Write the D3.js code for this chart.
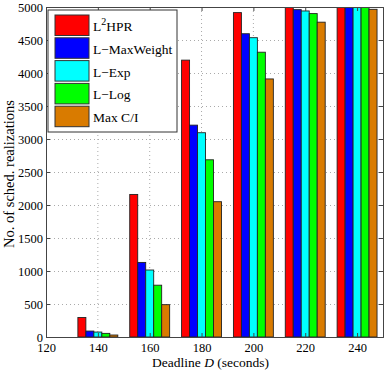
<!DOCTYPE html>
<html>
<head>
<meta charset="utf-8">
<script src="https://cdn.jsdelivr.net/npm/d3@7"></script>
<style>
body { margin:0; background:#fff; }
svg text { font-family:"Liberation Serif","Times New Roman",Times,serif; }
</style>
</head>
<body>
<svg id="chart"></svg>
<script>
// deadlines D (seconds)
var deadlines = [140,160,180,200,220,240]
var seriesNames = ["L2HPR","L-MaxWeight","L-Exp","L-Log","Max C/I"]
var l2hpr      = [295,2160,4195,4915,5000,5000]
var lMaxWeight = [90,1130,3210,4595,4960,5000]
var lExp       = [75,1015,3095,4535,4940,5000]
var lLog       = [55,785,2685,4315,4900,5000]
var maxCI      = [30,490,2050,3910,4770,4965]
var xTicks = [120,140,160,180,200,220,240]
var yTicks = [0,500,1000,1500,2000,2500,3000,3500,4000,4500,5000]
var colors = ["#ff0000","#0000ff","#00ffff","#00ff00","#d97b00"]

var allSeries = [l2hpr,lMaxWeight,lExp,lLog,maxCI]
var serif = "Liberation Serif, Times New Roman, Times, serif"

var screen = {width:387,height:374}
var margins = {left:46,right:4,top:7,bottom:37}
var graph = {
    width:screen.width-margins.left-margins.right,
    height:screen.height-margins.top-margins.bottom
}

var svg = d3.select("#chart")
    .attr("width",screen.width)
    .attr("height",screen.height)

var xScale = d3.scaleLinear()
    .domain([120,250])
    .range([0,graph.width])
var yScale = d3.scaleLinear()
    .domain([0,5000])
    .range([graph.height,0])

var groupW = (xScale(140)-xScale(120))*0.77
var barScale = d3.scaleBand()
    .domain(seriesNames)
    .range([-groupW/2,groupW/2])

var target = svg.append("g")
    .attr("transform","translate("+margins.left+","+margins.top+")")

svg.append("defs").append("clipPath").attr("id","clip")
    .append("rect").attr("width",graph.width).attr("height",graph.height)

//grid
var grid = target.append("g")
grid.selectAll(".gx")
    .data(xTicks.slice(1))
    .enter().append("line")
    .attr("x1",function(d){return xScale(d)})
    .attr("x2",function(d){return xScale(d)})
    .attr("y1",0).attr("y2",graph.height)
    .attr("stroke","#aaa").attr("stroke-dasharray","1,3")
grid.selectAll(".gy")
    .data(yTicks.slice(1,-1))
    .enter().append("line")
    .attr("y1",function(d){return yScale(d)+0.5})
    .attr("y2",function(d){return yScale(d)+0.5})
    .attr("x1",0).attr("x2",graph.width)
    .attr("stroke","#aaa").attr("stroke-dasharray","1,3")

//bars
var bars = target.append("g").attr("clip-path","url(#clip)")
allSeries.forEach(function(vals,i){
    bars.append("g").selectAll("rect")
        .data(vals)
        .enter()
        .append("rect")
        .attr("x",function(v,j){return xScale(deadlines[j])+barScale(seriesNames[i])})
        .attr("y",function(v){return yScale(v)})
        .attr("width",barScale.bandwidth())
        .attr("height",function(v){return graph.height-yScale(v)})
        .attr("fill",colors[i])
        .attr("stroke","#222")
        .attr("stroke-width",0.9)
})

//axes
var xAxis = d3.axisBottom(xScale).tickValues(xTicks).tickSize(-4).tickPadding(6).tickFormat(d3.format("d"))
var yAxis = d3.axisLeft(yScale).tickValues(yTicks).tickSize(-4).tickPadding(3).tickFormat(d3.format("d"))
var xTop = d3.axisTop(xScale).tickValues(xTicks).tickSize(-4).tickFormat("")
var yRight = d3.axisRight(yScale).tickValues(yTicks).tickSize(-4).tickFormat("")

target.append("g").attr("transform","translate(0,"+graph.height+")").call(xAxis)
target.append("g").call(yAxis)
target.append("g").call(xTop)
target.append("g").attr("transform","translate("+graph.width+",0)").call(yRight)
target.selectAll(".domain").attr("stroke","#444")
target.selectAll(".tick line").attr("stroke","#444")
target.selectAll("g").attr("font-family",null).attr("font-size",null)
target.selectAll(".tick text")
    .attr("fill","#000")
    .attr("font-family",serif)
    .attr("font-size","12.5px")

//labels
svg.append("text")
    .attr("text-anchor","middle")
    .attr("x",margins.left+graph.width/2-4)
    .attr("y",367)
    .attr("font-family",serif)
    .attr("font-size","13.5px")
    .html('Deadline <tspan font-style="italic">D</tspan> (seconds)')

svg.append("g")
    .attr("transform","translate(14,"+(margins.top+graph.height/2+2)+")")
    .append("text")
    .text("No. of sched. realizations")
    .attr("text-anchor","middle")
    .attr("transform","rotate(270)")
    .attr("font-family",serif)
    .attr("font-size","14.5px")

//legend
var legend = svg.append("g")
    .attr("transform","translate(48,10)")
legend.append("rect")
    .attr("width",129).attr("height",122)
    .attr("fill","#fff").attr("stroke","#333")
var entries = legend.selectAll(".entry")
    .data(seriesNames)
    .enter().append("g")
    .attr("transform",function(d,i){return "translate(7,"+(5+i*22.8)+")"})
entries.append("rect")
    .attr("width",34).attr("height",20.5)
    .attr("fill",function(d,i){return colors[i]})
    .attr("stroke","#333")
entries.append("text")
    .attr("x",38).attr("y",16)
    .attr("font-family",serif)
    .attr("font-size","13.5px")
    .each(function(d){
        var t = d3.select(this)
        if(d=="L2HPR"){
            t.append("tspan").text("L")
            t.append("tspan").text("2").attr("dy",-6).attr("font-size","10px")
            t.append("tspan").text("HPR").attr("dy",6)
        } else {
            t.text(d.replace("-","\u2212"))
        }
    })
</script>
</body>
</html>
